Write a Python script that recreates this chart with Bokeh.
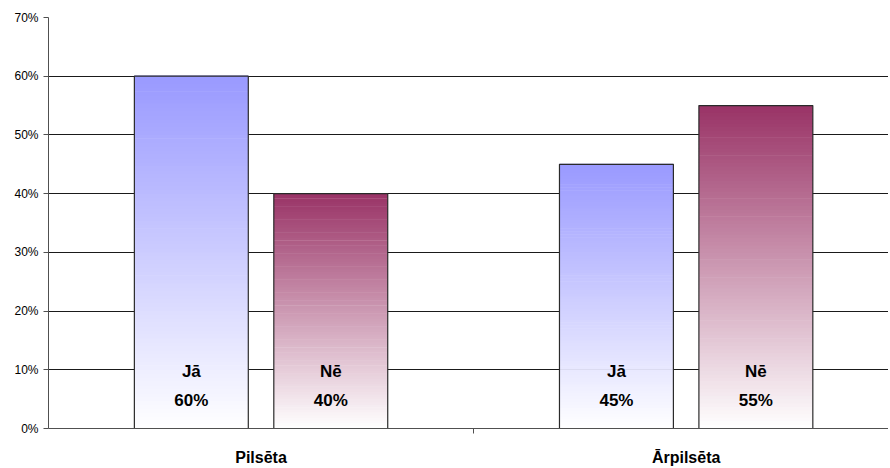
from bokeh.plotting import figure
from bokeh.models import Range1d, FixedTicker, NumeralTickFormatter
from bokeh.core.properties import value
from bokeh.embed import file_html
from bokeh.resources import INLINE

# ---- data ----
categories = ["Pilsēta", "Ārpilsēta"]
series_names = ["Jā", "Nē"]
ja_values = [0.60, 0.45]
ne_values = [0.40, 0.55]
y_ticks = [0.0, 0.1, 0.2, 0.3, 0.4, 0.5, 0.6, 0.7]
series_colors = ["#9999FF", "#993366"]

FONT = "Liberation Sans"

p = figure(frame_width=840, frame_height=411, output_backend="svg",
           toolbar_location=None, min_border_left=48, min_border_top=17,
           min_border_right=0, min_border_bottom=40,
           x_range=Range1d(0, 1.976), y_range=Range1d(0, 0.7))
p.outline_line_color = None
p.background_fill_color = "white"
p.border_fill_color = "white"

# grid
p.xgrid.grid_line_color = None
p.ygrid.ticker = FixedTicker(ticks=y_ticks)
p.ygrid.grid_line_color = "#1a1a1a"
p.ygrid.grid_line_width = 1

# y axis
p.yaxis.ticker = FixedTicker(ticks=y_ticks)
p.yaxis.formatter = NumeralTickFormatter(format="0%")
p.yaxis.major_label_text_font = FONT
p.yaxis.major_label_text_font_size = "12px"
p.yaxis.major_label_text_color = "black"
p.yaxis.major_tick_out = 5
p.yaxis.major_tick_in = 0
p.yaxis.minor_tick_line_color = None
p.yaxis.axis_line_color = "#505050"
p.yaxis.major_tick_line_color = "#505050"
p.yaxis.major_label_standoff = 5

# x axis: category labels at centres, divider minor tick between categories
p.xaxis.ticker = FixedTicker(ticks=[0.5, 1.5], minor_ticks=[1.0])
p.xaxis.major_label_overrides = {0.5: categories[0], 1.5: categories[1]}
p.xaxis.major_label_text_font = FONT
p.xaxis.major_label_text_font_size = "16px"
p.xaxis.major_label_text_font_style = "bold"
p.xaxis.major_label_text_color = "black"
p.xaxis.major_tick_out = 0
p.xaxis.major_tick_in = 0
p.xaxis.major_tick_line_color = None
p.xaxis.minor_tick_out = 5
p.xaxis.minor_tick_in = 0
p.xaxis.minor_tick_line_color = "#505050"
p.xaxis.axis_line_color = "#505050"
p.xaxis.major_label_standoff = 15

# bars with vertical gradient (white at bottom -> series colour at top)
bar_w = 0.268
offsets = [-0.164, 0.164]
N = 90

def hex_to_rgb(h):
    h = h.lstrip("#")
    return tuple(int(h[i:i + 2], 16) for i in (0, 2, 4))

def mix(c, t):
    r, g, b = hex_to_rgb(c)
    return "#%02x%02x%02x" % (round(255 + (r - 255) * t),
                              round(255 + (g - 255) * t),
                              round(255 + (b - 255) * t))

all_values = [ja_values, ne_values]
for s, vals in enumerate(all_values):
    left, right, bottom, top, colors = [], [], [], [], []
    for ci, v in enumerate(vals):
        xc = ci + 0.5 + offsets[s]
        for i in range(N):
            b0 = v * i / N
            b1 = v * (i + 1) / N
            t = (i + 0.5) / N
            left.append(xc - bar_w / 2)
            right.append(xc + bar_w / 2)
            bottom.append(b0)
            top.append(b1 + v * 0.002)
            colors.append(mix(series_colors[s], t))
    p.quad(left=left, right=right, bottom=bottom, top=top,
           fill_color=colors, line_color=None)
    # outline
    xs = [ci + 0.5 + offsets[s] for ci in range(len(vals))]
    p.quad(left=[x - bar_w / 2 for x in xs], right=[x + bar_w / 2 for x in xs],
           bottom=[0] * len(vals), top=vals, fill_color=None,
           line_color="#2a2a2a", line_width=1.2)
    # labels
    p.text(x=xs, y=[0.097] * len(vals), text=[series_names[s]] * len(vals),
           text_font=value(FONT), text_font_size="17px", text_font_style="bold",
           text_align="center", text_baseline="middle", text_color="black")
    p.text(x=xs, y=[0.048] * len(vals), text=["%d%%" % round(v * 100) for v in vals],
           text_font=value(FONT), text_font_size="17px", text_font_style="bold",
           text_align="center", text_baseline="middle", text_color="black")

open("out.html", "w").write(file_html(p, INLINE))
